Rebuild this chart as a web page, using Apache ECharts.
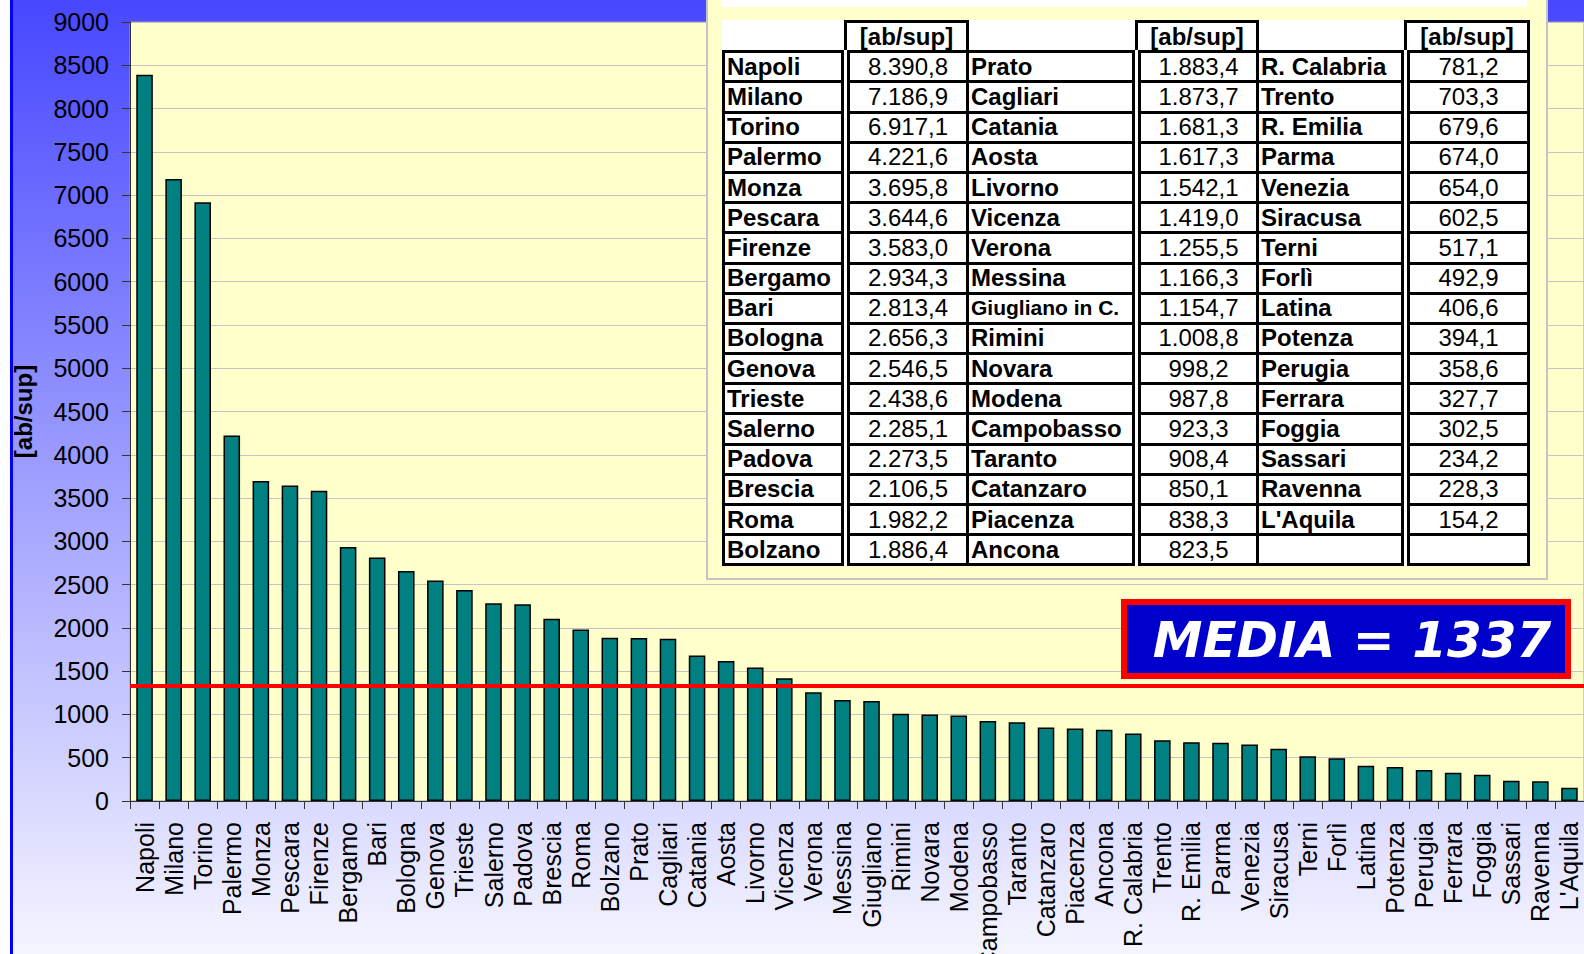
<!DOCTYPE html>
<html>
<head>
<meta charset="utf-8">
<title>Densità abitativa</title>
<script src="https://cdn.jsdelivr.net/npm/echarts@6/dist/echarts.min.js"></script>
<style>
  html, body { margin: 0; padding: 0; background: #fff; }
  #wrap { position: relative; width: 1584px; height: 954px; overflow: hidden; }
  #chart { position: absolute; left: 0; top: 0; width: 1584px; height: 954px;
    background: linear-gradient(to bottom, #4747ff 0%, #f5f5ff 100%); }
  #edge { position: absolute; left: 0; top: 0; width: 10px; height: 954px; background: #fff; }
  #edgeLine { position: absolute; left: 10px; top: 0; width: 3px; height: 954px; background: #0000ff; }
  #panel { position: absolute; left: 706px; top: -2px; width: 838px; height: 578px;
    background: #ffffcc; border: 2px solid #c4c4c4; }
  #strip { position: absolute; left: 13px; top: 0; width: 806px; height: 7px; background: #fff; }
  #tbl { position: absolute; left: 14px; top: 20px; border-collapse: collapse; table-layout: fixed;
    background: #fff; font-family: "Liberation Sans", Arial, sans-serif; font-size: 24px; color: #000; }
  #tbl tr { height: 30.2px; }
  #tbl td { padding: 0 2px; line-height: 24px; border: 3px solid #000; white-space: nowrap; overflow: hidden; }
  #tbl td.n { font-weight: bold; text-align: left; border-right: 9px double #000; }
  #tbl td.v { text-align: center; }
  #tbl td.h { text-align: center; font-weight: bold; }
  #tbl td.e { border: none; }
  #tbl td.small { font-size: 21px; }
</style>
</head>
<body>
<div id="wrap">
  <div id="chart"></div>
  <div id="edge"></div>
  <div id="edgeLine"></div>
  <div id="panel">
    <div id="strip"></div>
    <table id="tbl">
      <colgroup>
        <col style="width:122px"><col style="width:122px"><col style="width:169px">
        <col style="width:121px"><col style="width:148px"><col style="width:123px">
      </colgroup>
      <tbody id="tbody"></tbody>
    </table>
  </div>
</div>
<script>
  // comuni (etichette asse x)
  const cities = ['Napoli', 'Milano', 'Torino', 'Palermo', 'Monza', 'Pescara', 'Firenze', 'Bergamo', 'Bari',
    'Bologna', 'Genova', 'Trieste', 'Salerno', 'Padova', 'Brescia', 'Roma', 'Bolzano', 'Prato', 'Cagliari',
    'Catania', 'Aosta', 'Livorno', 'Vicenza', 'Verona', 'Messina', 'Giugliano', 'Rimini', 'Novara', 'Modena',
    'Campobasso', 'Taranto', 'Catanzaro', 'Piacenza', 'Ancona', 'R. Calabria', 'Trento', 'R. Emilia', 'Parma',
    'Venezia', 'Siracusa', 'Terni', 'Forlì', 'Latina', 'Potenza', 'Perugia', 'Ferrara', 'Foggia', 'Sassari',
    'Ravenna', "L'Aquila"];

  // densità [ab/sup]
  const density = [8390.8, 7186.9, 6917.1, 4221.6, 3695.8, 3644.6, 3583.0, 2934.3, 2813.4,
    2656.3, 2546.5, 2438.6, 2285.1, 2273.5, 2106.5, 1982.2, 1886.4, 1883.4, 1873.7,
    1681.3, 1617.3, 1542.1, 1419.0, 1255.5, 1166.3, 1154.7, 1008.8, 998.2, 987.8,
    923.3, 908.4, 850.1, 838.3, 823.5, 781.2, 703.3, 679.6, 674.0,
    654.0, 602.5, 517.1, 492.9, 406.6, 394.1, 358.6, 327.7, 302.5, 234.2,
    228.3, 154.2];

  const media = 1337;
  const yMin = 0;
  const yMax = 9000;
  const yStep = 500;
  const unitLabel = '[ab/sup]';

  // nomi usati nella tabella
  const tableNames = cities.map(c => c === 'Giugliano' ? 'Giugliano in C.' : c);

  function fmt (v) {
    const parts = v.toFixed(1).split('.');
    const int = parts[0].replace(/\B(?=(\d{3})+(?!\d))/g, '.');
    return int + ',' + parts[1];
  }

  // tabella a tre blocchi di 17 righe
  const rows = 17;
  let html = '<tr>';
  for (let b = 0; b < 3; b++) {
    html += '<td class="e"></td><td class="h">' + unitLabel + '</td>';
  }
  html += '</tr>';
  for (let r = 0; r < rows; r++) {
    html += '<tr>';
    for (let b = 0; b < 3; b++) {
      const i = b * rows + r;
      if (i < cities.length) {
        const cls = tableNames[i].length > 12 ? 'n small' : 'n';
        html += '<td class="' + cls + '">' + tableNames[i] + '</td><td class="v">' + fmt(density[i]) + '</td>';
      } else {
        html += '<td class="n"></td><td class="v"></td>';
      }
    }
    html += '</tr>';
  }
  document.getElementById('tbody').innerHTML = html;

  const chart = echarts.init(document.getElementById('chart'), null, { renderer: 'svg' });

  chart.setOption({
    animation: false,
    backgroundColor: 'transparent',
    textStyle: { fontFamily: '"Liberation Sans", Arial, sans-serif' },
    grid: {
      left: 130,
      right: 0,
      top: 22,
      bottom: 153,
      show: true,
      backgroundColor: '#ffffcc',
      borderColor: '#a0a0a0',
      borderWidth: 1,
      containLabel: false,
      outerBoundsMode: 'none'
    },
    xAxis: {
      type: 'category',
      data: cities,
      axisLine: { show: true, lineStyle: { color: '#333', width: 1 } },
      axisTick: { show: true, interval: 0, length: 8, lineStyle: { color: '#333' } },
      axisLabel: { interval: 0, rotate: 90, fontSize: 25, color: '#000', margin: 21 },
      splitLine: { show: false }
    },
    yAxis: {
      type: 'value',
      min: yMin,
      max: yMax,
      interval: yStep,
      name: unitLabel,
      nameLocation: 'middle',
      nameGap: 95,
      nameTextStyle: { fontSize: 24, fontWeight: 'bold', color: '#000' },
      axisLine: { show: true, lineStyle: { color: '#333', width: 1 } },
      axisTick: { show: true, length: 8, lineStyle: { color: '#333' } },
      axisLabel: { fontSize: 25, color: '#000', margin: 21, formatter: v => String(v) },
      splitLine: { show: true, lineStyle: { color: '#c4c4c4', width: 1 } }
    },
    series: [{
      type: 'bar',
      data: density,
      barWidth: '57%',
      itemStyle: { color: '#008080', borderColor: '#000', borderWidth: 1.5 },
      markLine: {
        silent: true,
        symbol: 'none',
        label: { show: false },
        lineStyle: { color: '#ff0000', width: 4, type: 'solid' },
        data: [{ yAxis: media }]
      }
    }],
    graphic: [
      {
        type: 'rect',
        z: 100,
        shape: { x: 1124, y: 602, width: 444, height: 74 },
        style: { fill: '#0000cc', stroke: '#ff0000', lineWidth: 6 }
      },
      {
        type: 'text',
        z: 101,
        x: 1352,
        y: 640,
        style: {
          text: 'MEDIA = ' + media,
          fill: '#fff',
          font: 'italic bold 50px "DejaVu Sans", Verdana, sans-serif',
          align: 'center',
          verticalAlign: 'middle'
        }
      }
    ]
  });
</script>
</body>
</html>
